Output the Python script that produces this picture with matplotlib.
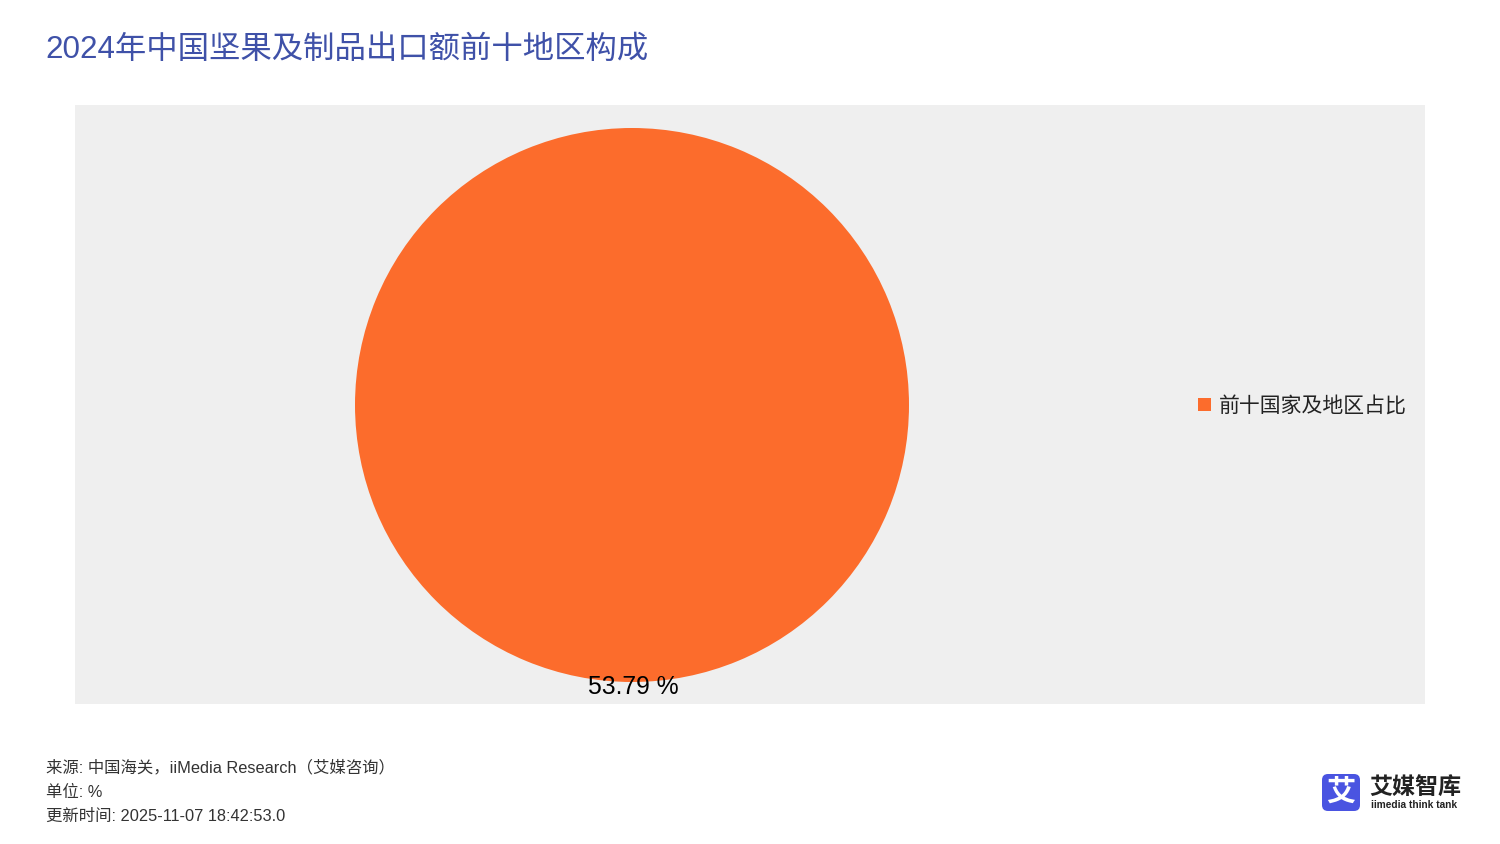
import matplotlib
matplotlib.use("Agg")
import matplotlib.pyplot as plt
import numpy as np
from matplotlib.patches import FancyBboxPatch

plt.rcParams["font.family"] = ["Liberation Sans", "Noto Sans CJK SC", "DejaVu Sans"]

TITLE = "2024年中国坚果及制品出口额前十地区构成"
categories = ["前十国家及地区占比"]
values = [53.79]
footer_lines = [
    "来源: 中国海关，iiMedia Research（艾媒咨询）",
    "单位: %",
    "更新时间: 2025-11-07 18:42:53.0",
]

PIE_COLOR = "#fc6c2c"
BG_COLOR = "#efefef"
W, H = 1500, 844

fig = plt.figure(figsize=(15, 8.44), dpi=100)
fig.patch.set_facecolor("white")


def px_axes(x0, y0, x1, y1):
    # pixel box (top-left origin) -> figure axes
    return fig.add_axes([x0 / W, 1 - y1 / H, (x1 - x0) / W, (y1 - y0) / H])


# Plot area background
bg = px_axes(75, 105, 1425, 704)
bg.set_facecolor(BG_COLOR)
bg.set_xticks([])
bg.set_yticks([])
for s in bg.spines.values():
    s.set_visible(False)

# Pie
cx, cy, r = 632, 405, 277
ax = px_axes(cx - r, cy - r, cx + r, cy + r)
ax.set_facecolor("none")
wedges, _ = ax.pie(values, colors=[PIE_COLOR], startangle=90, radius=1.0,
                   wedgeprops=dict(linewidth=0))
ax.set_xlim(-1, 1)
ax.set_ylim(-1, 1)
ax.axis("off")
for w, v in zip(wedges, values):
    mid = np.deg2rad((w.theta1 + w.theta2) / 2)
    ax.text(0.003 + np.cos(mid), 1.018 * np.sin(mid), f"{v:.2f} %",
            ha="center", va="center", fontsize=17.8, color="black", clip_on=False)

# Overlay in pixel coordinates for legend, title, footer, logo
ov = px_axes(0, 0, W, H)
ov.set_xlim(0, W)
ov.set_ylim(H, 0)
ov.axis("off")

# Legend
ov.add_patch(plt.Rectangle((1198, 398), 13, 13, color=PIE_COLOR, lw=0))
ov.text(1219, 406, categories[0], ha="left", va="center", fontsize=15,
        color="#222222")

# Title
ov.text(45, 50, TITLE, ha="left", va="center", fontsize=22.6, color="#3f51a8")

# Footer
for i, line in enumerate(footer_lines):
    ov.text(46, 768 + 24 * i, line, ha="left", va="center", fontsize=11.8,
            color="#333333")

# Logo
ov.add_patch(FancyBboxPatch((1323, 775), 36, 35,
                            boxstyle="round,pad=1,rounding_size=6",
                            color="#4a54e1", lw=0))
ov.text(1341, 793, "艾", ha="center", va="center", fontsize=21,
        fontweight="bold", color="white")
ov.text(1369, 787, "艾媒智库", ha="left", va="center", fontsize=16.6,
        fontweight="bold", color="#222222")
ov.text(1371, 805, "iimedia think tank", ha="left", va="center",
        fontsize=7.3, fontweight="bold", color="#222222")

fig.savefig("out.png", dpi=100, facecolor="white")
